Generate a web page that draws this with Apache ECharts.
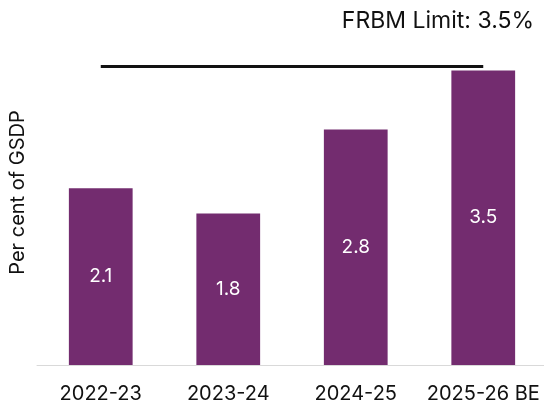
<!DOCTYPE html>
<html>
<head>
<meta charset="utf-8">
<title>Fiscal deficit, per cent of GSDP</title>
<script src="https://cdn.jsdelivr.net/npm/echarts@6/dist/echarts.min.js"></script>
<style>
    html, body { margin: 0; padding: 0; background: #fff; }
    #chart { width: 544px; height: 404px; }
</style>
</head>
<body>
<div id="chart"></div>
<script>
// 数据
var years = ['2022-23', '2023-24', '2024-25', '2025-26 BE'];
var deficit = [2.1, 1.8, 2.8, 3.5];
// FRBM limit line, as drawn (sits just above the 3.5 bar)
var limitLevel = [3.55];
var limitText = 'FRBM Limit: 3.5%';

var font = 'Inter';

var myChart = echarts.init(document.getElementById('chart'));

var option = {
    animation: false,
    graphic: [{
        type: 'text',
        right: 10,
        top: 10,
        style: {
            text: limitText,
            font: '23px ' + font,
            fill: '#111'
        }
    }],
    grid: {
        left: 37,
        right: -3,
        top: 20,
        bottom: 39,
        containLabel: false,
        outerBoundsMode: 'none'
    },
    xAxis: {
        type: 'category',
        data: years,
        axisLine: {
            lineStyle: { color: '#d9d9d9', width: 1 }
        },
        axisTick: { show: false },
        axisLabel: {
            interval: 0,
            margin: 19,
            fontSize: 20,
            fontFamily: font,
            color: '#111'
        }
    },
    yAxis: {
        type: 'value',
        min: 0,
        max: 4.1,
        name: 'Per cent of GSDP',
        nameLocation: 'middle',
        nameGap: 9,
        nameTextStyle: {
            fontSize: 20,
            fontFamily: font,
            color: '#111'
        },
        axisLine: { show: false },
        axisTick: { show: false },
        axisLabel: { show: false },
        splitLine: { show: false }
    },
    series: [{
        type: 'bar',
        data: deficit,
        barWidth: '50%',
        itemStyle: { color: '#732C6F' },
        label: {
            show: true,
            position: 'inside',
            color: '#fff',
            fontSize: 19,
            fontFamily: font
        },
        markLine: {
            silent: true,
            symbol: ['none', 'none'],
            label: { show: false },
            lineStyle: { color: '#111', width: 3, type: 'solid' },
            data: [[
                { coord: [years[0], limitLevel[0]] },
                { coord: [years[years.length - 1], limitLevel[0]] }
            ]]
        }
    }]
};

myChart.setOption(option);
</script>
</body>
</html>
